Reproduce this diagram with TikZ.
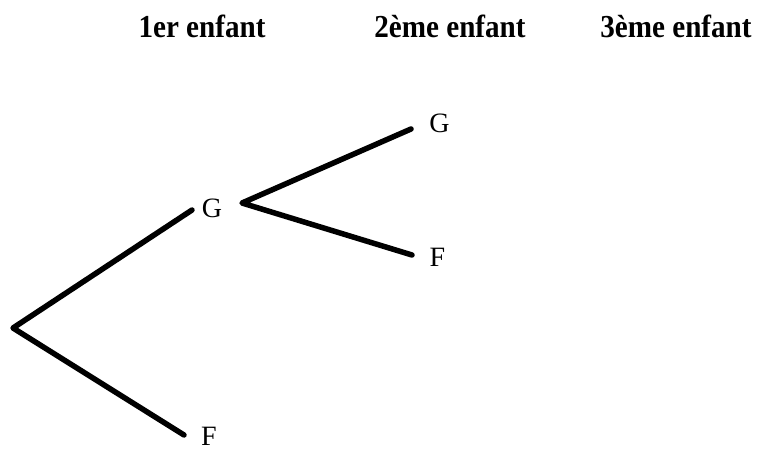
\documentclass[tikz,border=0pt]{standalone}
\usepackage{fontspec}
\usepackage{graphicx}
\setmainfont{Liberation Serif}
\begin{document}
\begin{tikzpicture}[x=1pt,y=-1pt,
  title/.style={font=\fontsize{32}{32}\selectfont\bfseries, inner sep=0pt, anchor=base},
  leaf/.style={font=\fontsize{28}{28}\selectfont, inner sep=0pt, anchor=base},
  branch/.style={line width=5.5pt, line cap=round, line join=round}]
\useasboundingbox (0,0) rectangle (761,450);
\node[title] (t1) at (202,37) {\scalebox{0.91}[1]{1er enfant}};
\node[title] (t2) at (450,37) {\scalebox{0.91}[1]{2ème enfant}};
\node[title] (t3) at (676,37) {\scalebox{0.91}[1]{3ème enfant}};
\coordinate (r) at (13,328);
\node[leaf] (g1) at (212,217) {G};
\node[leaf] (f1) at (209,445) {F};
\node[leaf] (g2) at (439.5,132) {G};
\node[leaf] (f2) at (437.5,266) {F};
\draw[branch] ([shift={(-20,-7)}]g1.base) -- (r) -- ([shift={(-25,-10)}]f1.base);
\draw[branch] ([shift={(-28.5,-3)}]g2.base) -- ([shift={(30,-14)}]g1.base) -- ([shift={(-25.5,-11)}]f2.base);
\end{tikzpicture}
\end{document}
